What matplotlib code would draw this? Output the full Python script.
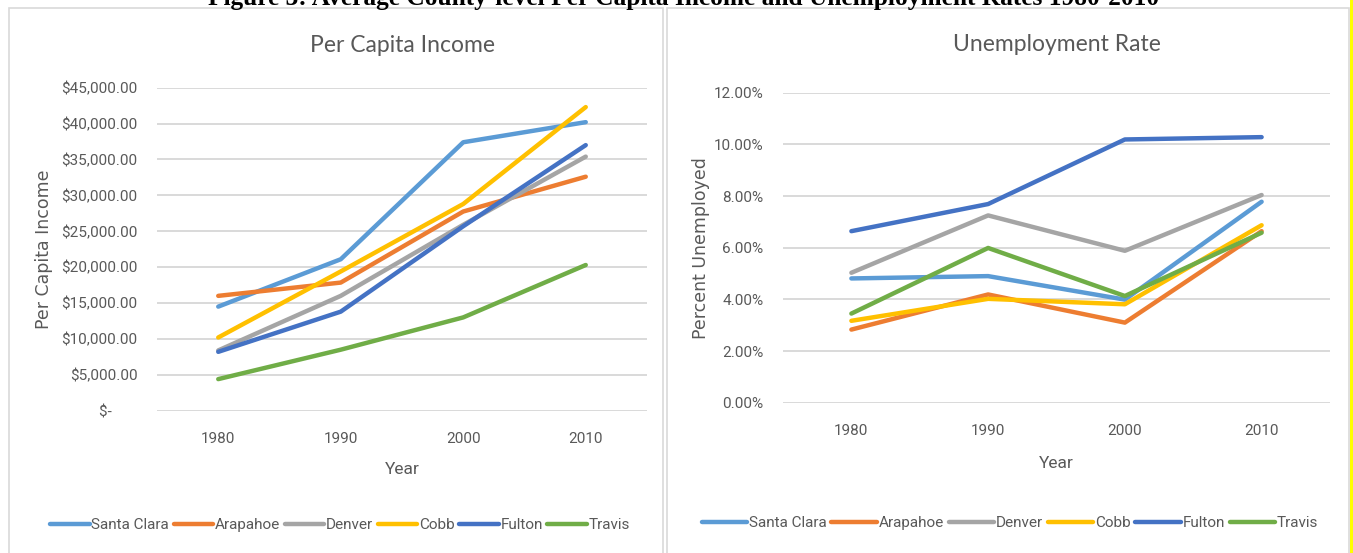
import matplotlib
matplotlib.use("Agg")
from matplotlib import pyplot as plt
from matplotlib.patches import Rectangle
from matplotlib.ticker import FuncFormatter

years = ["1980", "1990", "2000", "2010"]
counties = ["Santa Clara", "Arapahoe", "Denver", "Cobb", "Fulton", "Travis"]
colors = ["#5B9BD5", "#ED7D31", "#A5A5A5", "#FFC000", "#4472C4", "#70AD47"]

# per capita income, dollars
income_santa_clara = [14500, 21100, 37400, 40200]
income_arapahoe = [16000, 17850, 27750, 32600]
income_denver = [8400, 16000, 25900, 35400]
income_cobb = [10200, 19400, 28800, 42300]
income_fulton = [8200, 13800, 25700, 37000]
income_travis = [4400, 8500, 13000, 20300]

# unemployment rate, fraction
unemp_santa_clara = [0.0481, 0.0490, 0.0399, 0.0778]
unemp_arapahoe = [0.0283, 0.0419, 0.0310, 0.0664]
unemp_denver = [0.0503, 0.0725, 0.0588, 0.0804]
unemp_cobb = [0.0317, 0.0402, 0.0381, 0.0687]
unemp_fulton = [0.0664, 0.0769, 0.1019, 0.1028]
unemp_travis = [0.0345, 0.0599, 0.0413, 0.0658]

income = [income_santa_clara, income_arapahoe, income_denver,
          income_cobb, income_fulton, income_travis]
unemp = [unemp_santa_clara, unemp_arapahoe, unemp_denver,
         unemp_cobb, unemp_fulton, unemp_travis]

W, H = 1353, 553
GRAY = "#595959"
GRID = "#D9D9D9"
narrow = ["Roboto", "DejaVu Sans"]
title_font = ["Lato", "DejaVu Sans"]

fig = plt.figure(figsize=(W / 100, H / 100), dpi=100)
fig.patch.set_facecolor("white")

# chart frames
fig.patches.append(Rectangle((9 / W, -0.01), 654 / W, (H - 8) / H + 0.01,
                             transform=fig.transFigure, fill=False,
                             edgecolor=GRID, lw=1.2))
fig.patches.append(Rectangle((667 / W, -0.01), 682 / W, (H - 8) / H + 0.01,
                             transform=fig.transFigure, fill=False,
                             edgecolor=GRID, lw=1.2))
fig.patches.append(Rectangle((1350 / W, 0), 3 / W, 1,
                             transform=fig.transFigure, facecolor="#FFFF00",
                             edgecolor="none"))

fig.text(0.505, 1 - 5 / H,
         "Figure 3: Average County-level Per Capita Income and Unemployment Rates 1980-2010",
         ha="center", va="baseline", fontsize=18.3, fontweight="bold",
         family=["Liberation Serif", "DejaVu Serif"])


def money(v, pos):
    if v == 0:
        return "$-       "
    return "${:,.2f}".format(v)


def pct(v, pos):
    return "{:.2f}%".format(v * 100)


def style(ax, ymax, step, fmt, pad):
    ax.set_xlim(-0.5, 3.5)
    ax.set_ylim(0, ymax)
    ax.set_yticks([i * step for i in range(int(round(ymax / step)) + 1)])
    ax.yaxis.set_major_formatter(FuncFormatter(fmt))
    ax.set_xticks(range(len(years)))
    ax.set_xticklabels(years)
    ax.grid(axis="y", color=GRID, lw=1.4)
    ax.set_axisbelow(True)
    for s in ax.spines.values():
        s.set_visible(False)
    ax.tick_params(length=0, colors=GRAY, labelsize=11)
    ax.tick_params(axis="y", pad=pad)
    ax.tick_params(axis="x", pad=15)
    for lab in ax.get_xticklabels() + ax.get_yticklabels():
        lab.set_family(narrow)


# left chart
ax1 = fig.add_axes([157 / W, (H - 410.7) / H, 490 / W, 323 / H])
for name, vals, c in zip(counties, income, colors):
    ax1.plot(range(len(years)), vals, color=c, lw=3.2, label=name,
             solid_capstyle="round")
style(ax1, 45000, 5000, money, 14)
ax1.set_title("Per Capita Income", fontsize=16.5, color=GRAY, family=title_font,
              pad=26)
ax1.set_xlabel("Year", fontsize=12.5, color=GRAY, family=narrow, labelpad=12)
ax1.set_ylabel("Per Capita Income", fontsize=12.5, color=GRAY)
ax1.yaxis.set_label_coords(-0.213, 0.5)
h1, l1 = ax1.get_legend_handles_labels()
fig.legend(h1, l1, loc="center", bbox_to_anchor=(340 / W, 1 - 525 / H),
           ncol=6, frameon=False, handlelength=2.6, handletextpad=0.1,
           columnspacing=0.3, prop={"family": narrow, "size": 11},
           labelcolor=GRAY)

# right chart
ax2 = fig.add_axes([783 / W, (H - 402.7) / H, 547 / W, 310 / H])
for name, vals, c in zip(counties, unemp, colors):
    ax2.plot(range(len(years)), vals, color=c, lw=3.2, label=name,
             solid_capstyle="round")
style(ax2, 0.12, 0.02, pct, 14)
ax2.set_title("Unemployment Rate", fontsize=16.5, color=GRAY, family=title_font,
              pad=30)
ax2.set_xlabel("Year", fontsize=12.5, color=GRAY, family=narrow, labelpad=13)
ax2.set_ylabel("Percent Unemployed", fontsize=12.5, color=GRAY)
ax2.yaxis.set_label_coords(-0.134, 0.5)
h2, l2 = ax2.get_legend_handles_labels()
fig.legend(h2, l2, loc="center", bbox_to_anchor=(1010 / W, 1 - 523 / H),
           ncol=6, frameon=False, handlelength=3.0, handletextpad=0.1,
           columnspacing=0.3, prop={"family": narrow, "size": 11},
           labelcolor=GRAY)

fig.savefig("out.png", dpi=100)
